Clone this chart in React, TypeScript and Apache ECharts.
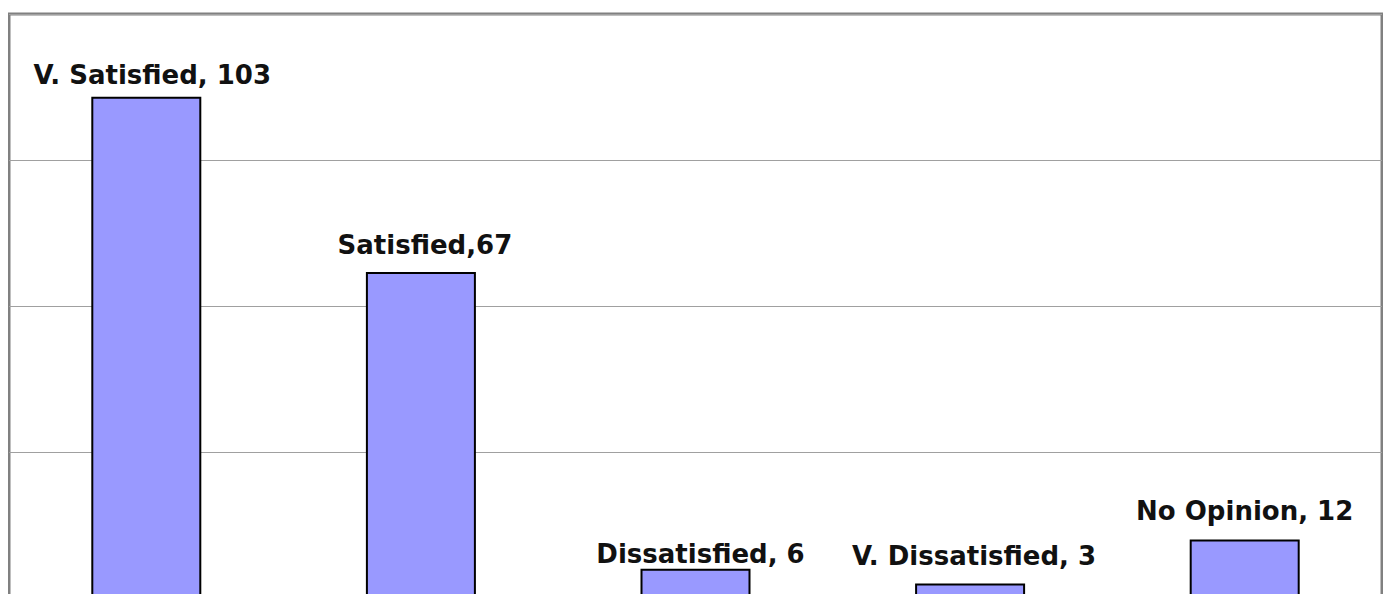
import React, { useEffect, useRef } from "react";
import * as echarts from "echarts";

const categories = ["V. Satisfied", "Satisfied", "Dissatisfied", "V. Dissatisfied", "No Opinion"];
const values = [103, 67, 6, 3, 12];
const labelTexts = ["V. Satisfied, 103", "Satisfied,67", "Dissatisfied, 6", "V. Dissatisfied, 3", "No Opinion, 12"];
const yMin = 0;
const yMax = 120;
const yInterval = 30;

// label style tweaks (offset from the bar top), not data
const labelDistance = [9, 14, 2, 14, 16];
const labelShiftX = [6, 4, 5, 4, 0];

export default function App() {
  const ref = useRef<HTMLDivElement>(null);
  useEffect(() => {
    document.documentElement.style.overflow = "hidden";
    document.body.style.overflow = "hidden";
    const chart = echarts.init(ref.current!, null, { renderer: "svg" });
    chart.setOption({
      animation: false,
      backgroundColor: "#ffffff",
      grid: {
        left: 1,
        right: 1,
        top: 6,
        height: 584,
        show: true,
        borderColor: "#808080",
        borderWidth: 3,
        backgroundColor: "transparent",
      },
      xAxis: {
        type: "category",
        data: categories,
        axisLabel: { show: false },
        axisTick: { show: false },
        axisLine: { show: false },
      },
      yAxis: {
        type: "value",
        min: yMin,
        max: yMax,
        interval: yInterval,
        axisLabel: { show: false },
        axisTick: { show: false },
        axisLine: { show: false },
        splitLine: { show: true, lineStyle: { color: "#a0a0a0", width: 1 } },
      },
      series: [
        {
          type: "bar",
          barWidth: 110,
          data: values.map((v, i) => ({
            value: v,
            label: {
              show: true,
              position: "top",
              distance: labelDistance[i],
              offset: [labelShiftX[i], 0],
              formatter: () => labelTexts[i],
              fontFamily: "DejaVu Sans",
              fontWeight: "bold",
              fontSize: 26,
              color: "#111111",
            },
          })),
          itemStyle: {
            color: "#9999ff",
            borderColor: "#000000",
            borderWidth: 2,
          },
        },
      ],
    });
    return () => chart.dispose();
  }, []);
  return <div ref={ref} style={{ width: 1375, height: 620 }} />;
}
